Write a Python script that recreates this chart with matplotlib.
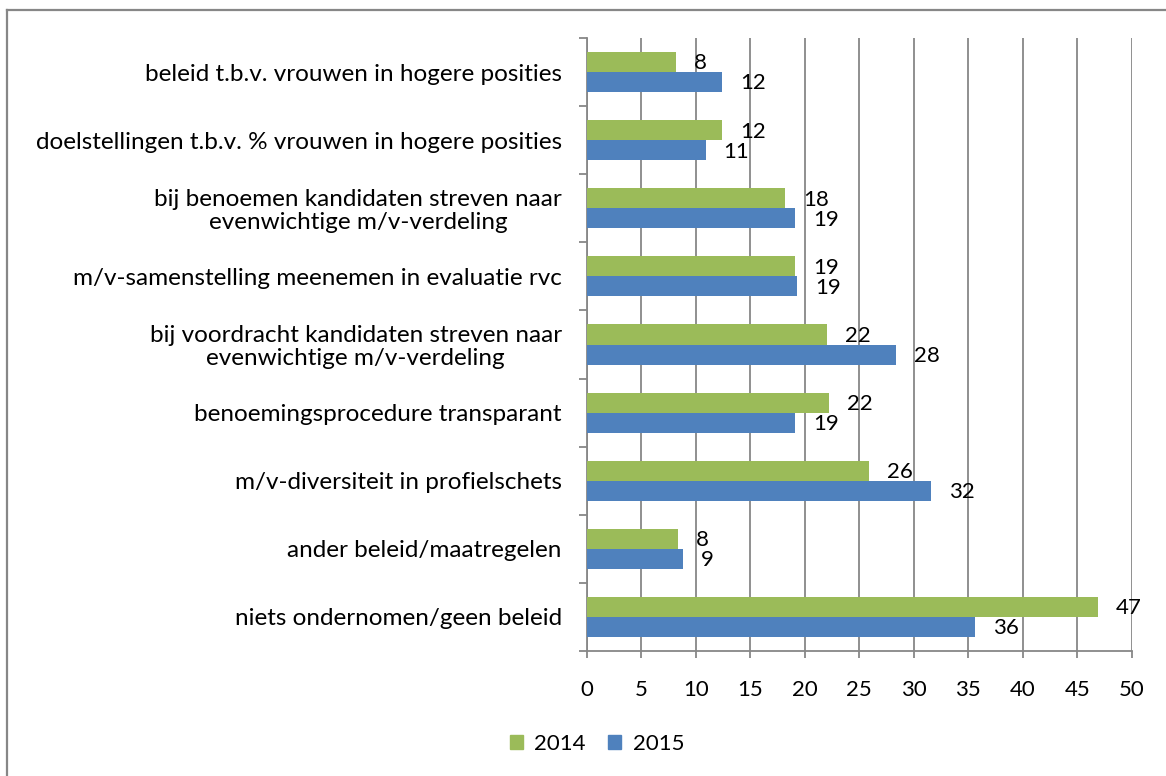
import matplotlib
matplotlib.use("Agg")
import matplotlib.pyplot as plt
from matplotlib.lines import Line2D
from matplotlib.patches import Patch
import numpy as np

categories = [
    "beleid t.b.v. vrouwen in hogere posities",
    "doelstellingen t.b.v. % vrouwen in hogere posities",
    "bij benoemen kandidaten streven naar\nevenwichtige m/v-verdeling",
    "m/v-samenstelling meenemen in evaluatie rvc",
    "bij voordracht kandidaten streven naar\nevenwichtige m/v-verdeling",
    "benoemingsprocedure transparant",
    "m/v-diversiteit in profielschets",
    "ander beleid/maatregelen",
    "niets ondernomen/geen beleid",
]
values_2014 = [8.2, 12.4, 18.2, 19.1, 22.0, 22.2, 25.9, 8.4, 46.9]
values_2015 = [12.4, 10.9, 19.1, 19.3, 28.4, 19.1, 31.6, 8.8, 35.6]
series_names = ["2014", "2015"]
x_ticks = [0, 5, 10, 15, 20, 25, 30, 35, 40, 45, 50]

GREEN = "#9BBB59"
BLUE = "#4F81BD"
GRAY = "#878787"
FONT = "Lato"

plt.rcParams["font.family"] = [FONT, "DejaVu Sans"]

W, H = 1166, 776
fig = plt.figure(figsize=(W / 100, H / 100), dpi=100)
ax = fig.add_axes([586.7 / W, 1 - 651 / H, (1131.7 - 586.7) / W, (651 - 38) / H])

n = len(categories)
y = np.arange(n)
bh = 0.294
ax.barh(y - bh / 2, values_2014, height=bh, color=GREEN, label=series_names[0], zorder=3)
ax.barh(y + bh / 2, values_2015, height=bh, color=BLUE, label=series_names[1], zorder=3)

for yi, v in zip(y, values_2014):
    ax.annotate(f"{v:.0f}", xy=(v, yi - bh / 2), xytext=(13, -1), textcoords="offset points",
                ha="left", va="center", fontsize=16, color="black")
for yi, v in zip(y, values_2015):
    ax.annotate(f"{v:.0f}", xy=(v, yi + bh / 2), xytext=(13, -1), textcoords="offset points",
                ha="left", va="center", fontsize=16, color="black")

ax.set_ylim(n - 0.5, -0.5)
ax.set_xlim(0, 50)
ax.set_xticks(x_ticks)
ax.set_xticklabels([str(t) for t in x_ticks], fontsize=16)
ax.set_yticks(y)
ax.set_yticklabels(categories, fontsize=17.5, multialignment="center", linespacing=1.1)
ax.set_yticks(np.arange(-0.5, n, 1.0), minor=True)

ax.tick_params(axis="y", which="major", length=0, pad=18)
ax.tick_params(axis="y", which="minor", length=6, width=1.3, color=GRAY, direction="out")
ax.tick_params(axis="x", which="major", length=5, width=1.3, color=GRAY, direction="out", pad=16)

ax.xaxis.grid(True, color=GRAY, linewidth=1.3, zorder=0)
ax.set_axisbelow(True)
for s in ["top", "right"]:
    ax.spines[s].set_visible(False)
for s in ["left", "bottom"]:
    ax.spines[s].set_color(GRAY)
    ax.spines[s].set_linewidth(1.3)

handles = [Patch(color=GREEN, label=series_names[0]), Patch(color=BLUE, label=series_names[1])]
fig.legend(handles=handles, loc="center", bbox_to_anchor=(597 / W, 1 - 744 / H), ncol=2,
           frameon=False, fontsize=16, handlelength=0.6, handleheight=0.6,
           handletextpad=0.5, columnspacing=1.0)

# outer chart border (left and top visible)
fig.add_artist(Line2D([7 / W, 7 / W], [0, 1 - 10 / H], transform=fig.transFigure, color=GRAY, linewidth=1.6))
fig.add_artist(Line2D([7 / W, 1], [1 - 10 / H, 1 - 10 / H], transform=fig.transFigure, color=GRAY, linewidth=1.6))

fig.savefig("out.png", dpi=100, facecolor="white")
